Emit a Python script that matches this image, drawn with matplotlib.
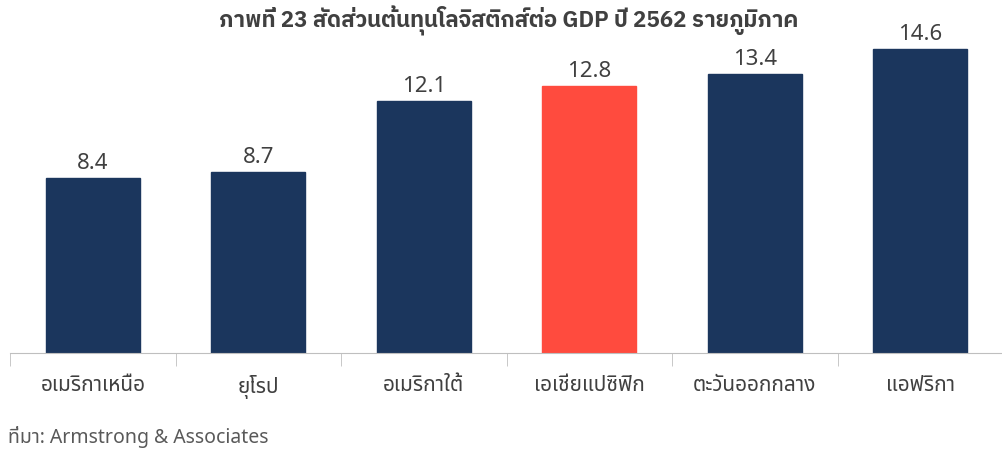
import matplotlib
matplotlib.use('Agg')
import matplotlib.pyplot as plt

# Data
regions = ['อเมริกาเหนือ', 'ยุโรป', 'อเมริกาใต้', 'เอเชียแปซิฟิก', 'ตะวันออกกลาง', 'แอฟริกา']
values = [8.4, 8.7, 12.1, 12.8, 13.4, 14.6]
highlight = 'เอเชียแปซิฟิก'

title = 'ภาพที่ 23 สัดส่วนต้นทุนโลจิสติกส์ต่อ GDP ปี 2562 รายภูมิภาค'
source = 'ที่มา: Armstrong & Associates'

plt.rcParams['font.family'] = ['Noto Sans Thai', 'Noto Sans', 'DejaVu Sans']

navy = '#1B365D'
red = '#FF4B3E'
colors = [red if r == highlight else navy for r in regions]

fig = plt.figure(figsize=(10.03, 4.51), dpi=100)
ax = fig.add_axes([0.01, 0.217, 0.99, 0.693])

x = list(range(len(regions)))
bars = ax.bar(x, values, width=0.57, color=colors, edgecolor=colors)
for xi, v in zip(x, values):
    ax.text(xi, v + 0.2, f'{v:.1f}', ha='center', va='bottom', fontsize=16,
            color='#404040', fontweight='light')

ax.set_xlim(-0.5, len(regions) - 0.5)
ax.set_ylim(0, 15)
ax.set_yticks([])
for s in ['top', 'right', 'left']:
    ax.spines[s].set_visible(False)
ax.spines['bottom'].set_color('#BFBFBF')

# category labels, with ticks on the boundaries between them
ax.set_xticks(x)
ax.set_xticklabels(regions, fontsize=15, color='#404040')
ax.tick_params(axis='x', length=0, pad=16)
ax.set_xticks([i - 0.5 for i in range(len(regions) + 1)], minor=True)
ax.tick_params(axis='x', which='minor', length=9, color='#BFBFBF')

fig.text(0.507, 0.953, title, ha='center', va='center', fontsize=16, fontweight='bold',
         color='#404040', family=['IBM Plex Sans Thai', 'Noto Sans Thai', 'DejaVu Sans'])
fig.text(0.008, 0.03, source, ha='left', va='center', fontsize=14, color='#595959')

fig.savefig('out.png')
